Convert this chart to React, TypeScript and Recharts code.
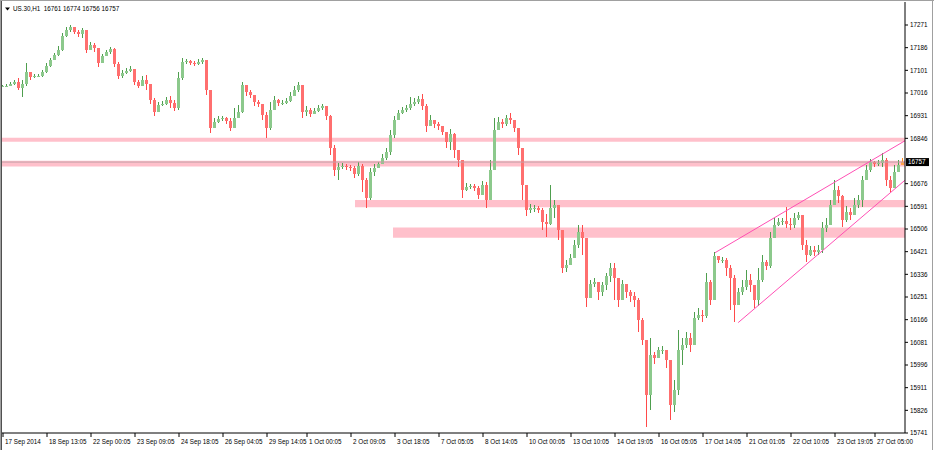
import React from 'react';
import { ComposedChart, Bar, XAxis, YAxis, ReferenceArea, ReferenceLine } from 'recharts';

// ---- data (US.30, H1) ----
const firstOpen = 17043;
const closes = [
  17043, 17043, 17050, 17057, 17035, 17050, 17094, 17076, 17080, 17080,
  17094, 17117, 17140, 17158, 17177, 17230, 17252, 17264, 17245, 17237,
  17252, 17177, 17196, 17185, 17129, 17154, 17169, 17181, 17125, 17080,
  17091, 17098, 17106, 17057, 17043, 17065, 17050, 16990, 16944, 16971,
  16975, 16990, 16979, 16960, 17072, 17132, 17136, 17129, 17125, 17132,
  17140, 17027, 16885, 16907, 16918, 16922, 16911, 16885, 16922, 16944,
  17046, 17019, 17008, 16982, 16975, 16933, 16885, 16952, 16990, 16979,
  16979, 16986, 17005, 17027, 17046, 16944, 16952, 16937, 16948, 16960,
  16968, 16930, 16810, 16727, 16739, 16743, 16739, 16735, 16712, 16743,
  16690, 16622, 16720, 16735, 16750, 16772, 16795, 16859, 16915, 16941,
  16952, 16960, 16975, 16982, 16993, 16968, 16892, 16915, 16900, 16892,
  16870, 16832, 16862, 16802, 16765, 16652, 16664, 16668, 16660, 16633,
  16671, 16615, 16727, 16877, 16907, 16900, 16922, 16915, 16885, 16810,
  16671, 16577, 16585, 16585, 16577, 16532, 16525, 16585, 16596, 16502,
  16360, 16371, 16397, 16446, 16495, 16472, 16247, 16300, 16307, 16270,
  16296, 16330, 16360, 16322, 16240, 16300, 16270, 16255, 16240, 16165,
  16090, 15883, 16033, 16022, 16052, 16052, 16015, 15846, 15902, 16052,
  16071, 16097, 16071, 16172, 16183, 16180, 16307, 16240, 16405, 16390,
  16390, 16360, 16322, 16221, 16270, 16289, 16315, 16296, 16240, 16315,
  16382, 16367, 16472, 16521, 16532, 16536, 16525, 16521, 16547, 16559,
  16446, 16408, 16427, 16420, 16427, 16510, 16521, 16596, 16652, 16630,
  16540, 16570, 16559, 16596, 16615, 16690, 16727, 16757, 16750, 16754,
  16765, 16690, 16660, 16720, 16746, 16757,
];
const highs = [
  17046, 17050, 17057, 17065, 17072, 17065, 17129, 17094, 17087, 17087,
  17102, 17129, 17147, 17166, 17192, 17241, 17264, 17271, 17260, 17252,
  17260, 17230, 17207, 17204, 17177, 17162, 17177, 17189, 17185, 17132,
  17102, 17110, 17117, 17102, 17065, 17080, 17083, 17043, 16997, 16982,
  16986, 17001, 17005, 16990, 17094, 17147, 17143, 17140, 17136, 17143,
  17147, 17140, 17019, 16922, 16930, 16930, 16926, 16922, 16960, 16971,
  17057, 17035, 17027, 16997, 16990, 16975, 16944, 16982, 17005, 16993,
  16990, 16997, 17019, 17043, 17057, 17035, 16968, 16960, 16960, 16971,
  16975, 16968, 16933, 16821, 16754, 16754, 16750, 16746, 16743, 16757,
  16750, 16697, 16735, 16750, 16757, 16787, 16810, 16877, 16930, 16952,
  16964, 16971, 17001, 16997, 17005, 17012, 16975, 16933, 16915, 16907,
  16892, 16870, 16881, 16866, 16802, 16765, 16679, 16675, 16675, 16668,
  16686, 16682, 16765, 16922, 16926, 16918, 16933, 16941, 16915, 16877,
  16802, 16622, 16600, 16596, 16593, 16585, 16562, 16671, 16615, 16596,
  16382, 16390, 16412, 16465, 16521, 16521, 16472, 16315, 16322, 16304,
  16307, 16341, 16379, 16379, 16322, 16315, 16300, 16277, 16270, 16247,
  16172, 16090, 16097, 16045, 16063, 16067, 16052, 16015, 15940, 16127,
  16097, 16119, 16116, 16194, 16210, 16202, 16341, 16315, 16420, 16405,
  16401, 16397, 16371, 16334, 16285, 16315, 16352, 16337, 16296, 16360,
  16408, 16390, 16495, 16547, 16547, 16547, 16589, 16547, 16566, 16570,
  16559, 16465, 16442, 16442, 16446, 16532, 16547, 16615, 16690, 16668,
  16633, 16593, 16585, 16622, 16633, 16705, 16746, 16768, 16761, 16765,
  16791, 16772, 16705, 16746, 16765, 16774,
];
const lows = [
  17039, 17039, 17043, 17046, 17027, 17001, 17043, 17065, 17072, 17076,
  17076, 17091, 17114, 17147, 17154, 17173, 17226, 17245, 17237, 17226,
  17222, 17166, 17185, 17169, 17114, 17132, 17154, 17162, 17114, 17068,
  17072, 17087, 17094, 17046, 17035, 17043, 17027, 16975, 16930, 16952,
  16968, 16971, 16960, 16948, 16952, 17065, 17125, 17121, 17117, 17121,
  17125, 17008, 16866, 16885, 16904, 16911, 16900, 16873, 16907, 16922,
  16941, 17005, 16997, 16968, 16964, 16915, 16847, 16877, 16971, 16968,
  16971, 16975, 16982, 17008, 17019, 16922, 16930, 16926, 16937, 16944,
  16952, 16915, 16783, 16705, 16690, 16731, 16727, 16723, 16697, 16705,
  16645, 16585, 16615, 16705, 16735, 16750, 16765, 16783, 16847, 16922,
  16937, 16944, 16952, 16968, 16975, 16952, 16870, 16896, 16885, 16877,
  16858, 16810, 16802, 16772, 16739, 16622, 16648, 16656, 16648, 16618,
  16652, 16585, 16615, 16727, 16889, 16885, 16892, 16900, 16870, 16783,
  16615, 16555, 16566, 16570, 16566, 16502, 16476, 16521, 16547, 16465,
  16341, 16344, 16375, 16397, 16435, 16408, 16214, 16277, 16289, 16240,
  16255, 16277, 16307, 16240, 16214, 16270, 16247, 16232, 16214, 16119,
  16071, 15764, 15827, 16000, 16030, 16037, 15985, 15790, 15819, 15883,
  15996, 16060, 16045, 16127, 16165, 16157, 16172, 16221, 16240, 16379,
  16379, 16330, 16202, 16157, 16240, 16258, 16277, 16270, 16210, 16218,
  16307, 16352, 16360, 16480, 16518, 16521, 16510, 16502, 16510, 16540,
  16427, 16382, 16405, 16405, 16408, 16416, 16495, 16559, 16622, 16604,
  16514, 16532, 16540, 16570, 16585, 16589, 16690, 16720, 16739, 16743,
  16739, 16668, 16645, 16682, 16727, 16756,
];

const timeLabels = [
  '17 Sep 2014', '18 Sep 13:05', '22 Sep 00:05', '23 Sep 09:05', '24 Sep 18:05',
  '26 Sep 04:05', '29 Sep 14:05', '1 Oct 00:05', '2 Oct 09:05', '3 Oct 18:05',
  '7 Oct 05:05', '8 Oct 14:05', '10 Oct 00:05', '13 Oct 10:05', '14 Oct 19:05',
  '16 Oct 05:05', '17 Oct 14:05', '21 Oct 01:05', '22 Oct 10:05', '23 Oct 19:05',
  '27 Oct 05:00',
];
const timeLabelBars = [0, 11, 22, 33, 44, 55, 66, 76, 87, 98, 109, 120, 131, 142, 153, 164, 175, 186, 197, 208, 218];

const priceTicks = [
  17271, 17186, 17101, 17016, 16931, 16846, 16676, 16591, 16506, 16421,
  16336, 16251, 16166, 16081, 15996, 15911, 15826, 15741,
];
const priceMin = 15741;
const priceMax = 17357.25;
const lastPrice = 16757;
const titleSymbol = 'US.30,H1';
const titleQuote = '16761 16774 16756 16757';

// support / resistance zones: start bar, end bar, low price, high price
const zoneStart = [-0.5, -0.5, 88, 97.5];
const zoneEnd = [225.5, 225.5, 225.5, 225.5];
const zoneLow = [16833, 16740, 16588, 16473];
const zoneHigh = [16848, 16762, 16615, 16512];

// channel lines: [bar, price] endpoints
const channelUpper = [{ x: 178, y: 16417 }, { x: 225.5, y: 16837 }];
const channelLower = [{ x: 183.8, y: 16155 }, { x: 225.5, y: 16689 }];

const data = closes.map((c, i) => {
  const o = i === 0 ? firstOpen : closes[i - 1];
  const hi = Math.max(highs[i], o, c);
  const lo = Math.min(lows[i], o, c);
  return { i, o, c, hi, lo, range: [lo, hi], last: i === closes.length - 1 };
});

const FONT = '"Liberation Sans", Arial, sans-serif';
const FS = 6.3;

const Candle = (props: any) => {
  const { x, y, width, height, payload } = props;
  if (x == null || y == null || !payload) return null;
  const { o, c, hi, lo, last } = payload;
  const span = hi - lo;
  const per = span > 0 ? height / span : 0;
  const yOf = (v: number) => y + (hi - v) * per;
  const cx = Math.floor(x + width / 2);
  const bull = c >= o;
  const body = last ? '#ffa54a' : bull ? '#8cc98c' : '#ff6f6f';
  const wick = last ? '#ff8c1a' : bull ? '#4e9e4e' : '#ff4a4a';
  const top = yOf(Math.max(o, c));
  const bot = yOf(Math.min(o, c));
  return (
    <g shapeRendering="crispEdges">
      <rect x={cx} y={y} width={1} height={Math.max(height, 1)} fill={wick} />
      <rect x={cx - 1} y={top} width={3} height={Math.max(bot - top, 1)} fill={body} />
    </g>
  );
};

const XTick = (props: any) => {
  const { x, y, payload } = props;
  const idx = timeLabelBars.indexOf(payload.value);
  return (
    <text x={x + 2} y={y + 5} fontSize={FS} fontFamily={FONT} fill="#000" textAnchor="start">
      {idx >= 0 ? timeLabels[idx] : ''}
    </text>
  );
};

const YTick = (props: any) => {
  const { x, y, payload } = props;
  return (
    <text x={x} y={y + 2.2} fontSize={FS} fontFamily={FONT} fill="#000" textAnchor="start">
      {payload.value}
    </text>
  );
};

const PriceTag = (props: any) => {
  const vb = props.viewBox || {};
  const px = vb.x + vb.width + 1;
  const py = vb.y;
  return (
    <g>
      <rect x={px} y={py - 4} width={23} height={8} fill="#000" />
      <text x={px + 2} y={py + 2.2} fontSize={FS} fontFamily={FONT} fill="#fff">
        {lastPrice}
      </text>
    </g>
  );
};

export default function App() {
  return (
    <div style={{ position: 'absolute', left: 0, top: 0, width: 934, height: 450, background: '#fff', overflow: 'hidden' }}>
      <ComposedChart width={934} height={450} data={data} margin={{ top: 2, right: 0, left: 1, bottom: 0 }}>
        <XAxis
          dataKey="i"
          type="number"
          domain={[-0.5, 225.5]}
          ticks={timeLabelBars}
          interval={0}
          allowDataOverflow
          height={17}
          tickSize={4}
          tick={<XTick />}
          axisLine={{ stroke: '#000' }}
          tickLine={{ stroke: '#000' }}
        />
        <YAxis
          orientation="right"
          type="number"
          domain={[priceMin, priceMax]}
          ticks={priceTicks}
          interval={0}
          allowDataOverflow
          width={29}
          tickSize={3}
          tick={<YTick />}
          axisLine={{ stroke: '#000' }}
          tickLine={{ stroke: '#000' }}
        />
        {zoneLow.map((lo, k) => (
          <ReferenceArea
            key={'z' + k}
            x1={zoneStart[k]}
            x2={zoneEnd[k]}
            y1={lo}
            y2={zoneHigh[k]}
            fill="#ffc0cb"
            fillOpacity={1}
            stroke="none"
            ifOverflow="hidden"
          />
        ))}
        <ReferenceLine y={lastPrice} stroke="#c4a0a8" strokeWidth={1} label={<PriceTag />} />
        <Bar dataKey="range" barSize={3} shape={Candle} isAnimationActive={false} />
        <ReferenceLine segment={channelUpper} stroke="#ff4fb4" strokeWidth={1} ifOverflow="visible" />
        <ReferenceLine segment={channelLower} stroke="#ff4fb4" strokeWidth={1} ifOverflow="visible" />
      </ComposedChart>
      <svg style={{ position: 'absolute', left: 0, top: 0 }} width={934} height={450} pointerEvents="none">
        <polygon points="5,7.5 10,7.5 7.5,10.5" fill="#000" />
        <text x={13} y={11} fontSize={FS} fontFamily={FONT} fill="#000">
          {titleSymbol}
          <tspan dx={4}>{titleQuote}</tspan>
        </text>
        <line x1={0.5} y1={0} x2={0.5} y2={450} stroke="#a0a0a0" />
        <line x1={1.5} y1={0} x2={1.5} y2={450} stroke="#505050" />
        <line x1={0} y1={0.5} x2={934} y2={0.5} stroke="#a0a0a0" />
        <line x1={932.5} y1={0} x2={932.5} y2={450} stroke="#a0a0a0" />
      </svg>
    </div>
  );
}
